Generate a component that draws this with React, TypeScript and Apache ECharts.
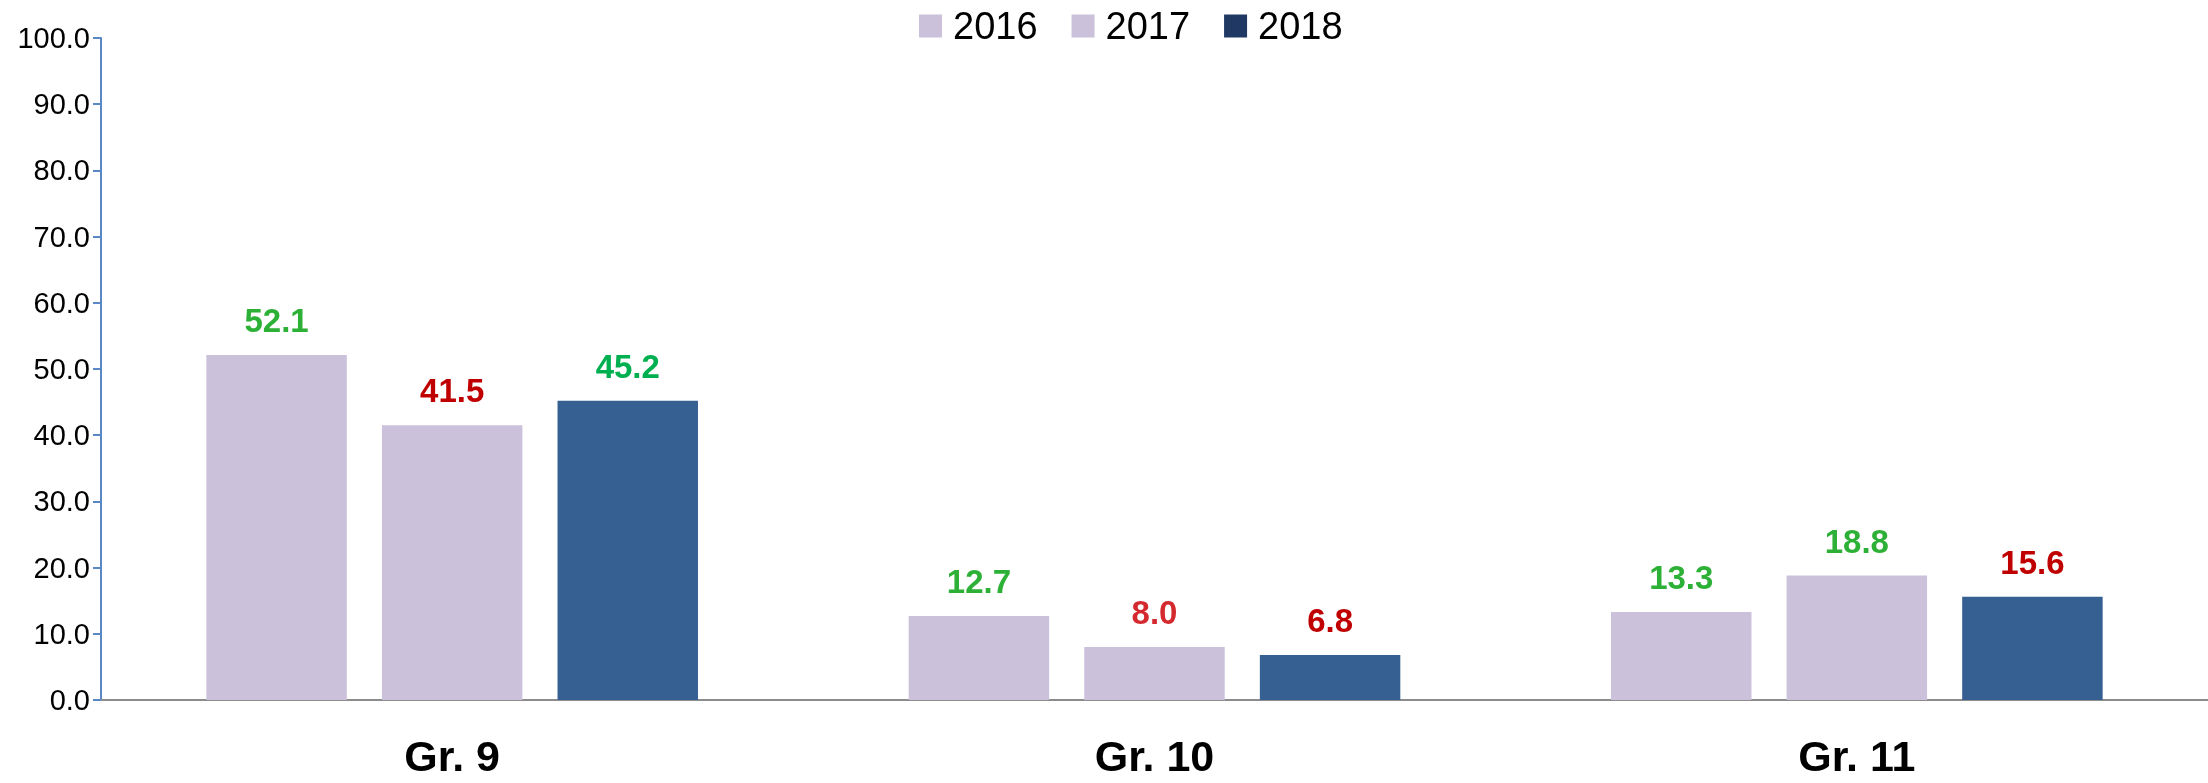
import React, { useEffect, useRef } from "react";
import * as echarts from "echarts";

const categories = ["Gr. 9", "Gr. 10", "Gr. 11"];
const seriesNames = ["2016", "2017", "2018"];
const values2016 = [52.1, 12.7, 13.3];
const values2017 = [41.5, 8.0, 18.8];
const values2018 = [45.2, 6.8, 15.6];
const yTicks = { min: 0, max: 100, interval: 10 };

// label colours (styling)
const labelColors2016 = ["#2DB036", "#2DB036", "#2DB036"];
const labelColors2017 = ["#C00000", "#D42A2F", "#2DB036"];
const labelColors2018 = ["#00B050", "#C00000", "#C00000"];

const FONT = "'Liberation Sans', Arial, sans-serif";

export default function App() {
  const ref = useRef<HTMLDivElement>(null);
  useEffect(() => {
    if (!ref.current) return;
    const chart = echarts.init(ref.current, null, { renderer: "svg" });
    const mk = (
      name: string,
      vals: number[],
      colors: string[],
      legendColor: string,
      barColor: string
    ) => ({
      name,
      type: "bar",
      barWidth: "20%",
      barGap: "25%",
      itemStyle: { color: legendColor },
      data: vals.map((v, i) => ({
        value: v,
        itemStyle: { color: barColor },
        label: { color: colors[i] },
      })),
      label: {
        show: true,
        position: "top",
        distance: 18,
        fontFamily: FONT,
        fontWeight: "bold",
        fontSize: 33,
        formatter: (p: any) => Number(p.value).toFixed(1),
      },
    });
    chart.setOption({
      animation: false,
      textStyle: { fontFamily: FONT },
      legend: {
        top: 2,
        left: 914,
        icon: "rect",
        itemWidth: 23,
        itemHeight: 23,
        itemGap: 34,
        textStyle: {
          fontSize: 38,
          color: "#000",
          fontFamily: FONT,
          padding: [0, 0, 0, 6],
        },
        data: seriesNames,
      },
      grid: { left: 101, right: 0, top: 38, bottom: 83 },
      xAxis: {
        type: "category",
        data: categories,
        axisLine: { lineStyle: { color: "#8C8C8C", width: 2 } },
        axisTick: { show: false },
        axisLabel: {
          fontSize: 43,
          fontWeight: "bold",
          color: "#000",
          margin: 34,
          lineHeight: 44,
          fontFamily: FONT,
        },
      },
      yAxis: {
        type: "value",
        min: yTicks.min,
        max: yTicks.max,
        interval: yTicks.interval,
        splitLine: { show: false },
        axisLine: { show: true, lineStyle: { color: "#5B87C5", width: 2 } },
        axisTick: { show: true, length: 8, lineStyle: { color: "#5B87C5", width: 2 } },
        axisLabel: {
          fontSize: 29,
          color: "#000",
          margin: 11,
          fontFamily: FONT,
          formatter: (v: number) => v.toFixed(1),
        },
      },
      series: [
        mk(seriesNames[0], values2016, labelColors2016, "#CBC1DB", "#CBC1DB"),
        mk(seriesNames[1], values2017, labelColors2017, "#CBC1DB", "#CBC1DB"),
        mk(seriesNames[2], values2018, labelColors2018, "#1F3864", "#366092"),
      ],
    });
    return () => chart.dispose();
  }, []);
  return (
    <div
      ref={ref}
      style={{ position: "fixed", left: 0, top: 0, width: 2208, height: 783 }}
    />
  );
}
